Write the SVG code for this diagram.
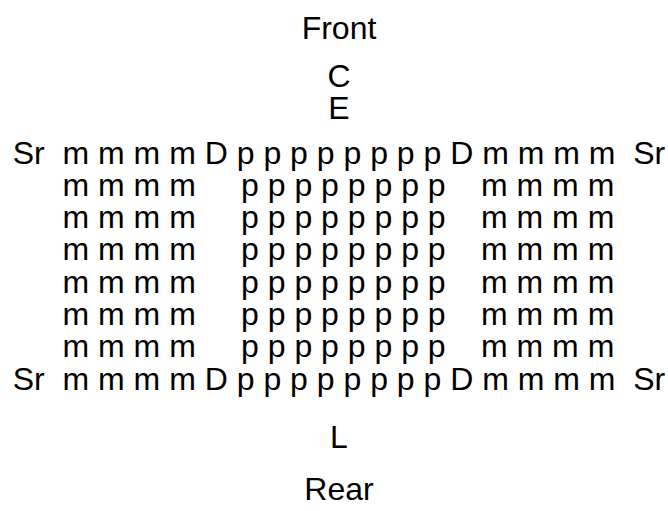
<svg xmlns="http://www.w3.org/2000/svg" width="668" height="511" viewBox="0 0 668 511">
<style>
text{font-family:"Liberation Sans",Arial,sans-serif;font-size:32px;fill:#000}
.c{text-anchor:middle}
</style>
<rect width="668" height="511" fill="#fff"/>
<g id="labels">
<text class="c" x="339" y="38.5">Front</text>
<text class="c" x="339" y="86.5">C</text>
<text class="c" x="339" y="118.5">E</text>
<text class="c" x="339" y="447.5">L</text>
<text class="c" x="339" y="499.5">Rear</text>
</g>
<g id="row1"><text class="c" x="339" y="163.5" xml:space="preserve">Sr  m m m m D p p p p p p p p D m m m m  Sr</text></g>
<g id="rows">
<text x="62.5" y="195.8">m m m m</text><text x="241" y="195.8">p p p p p p p p</text><text x="481" y="195.8">m m m m</text>
<text x="62.5" y="228.1">m m m m</text><text x="241" y="228.1">p p p p p p p p</text><text x="481" y="228.1">m m m m</text>
<text x="62.5" y="260.4">m m m m</text><text x="241" y="260.4">p p p p p p p p</text><text x="481" y="260.4">m m m m</text>
<text x="62.5" y="292.7">m m m m</text><text x="241" y="292.7">p p p p p p p p</text><text x="481" y="292.7">m m m m</text>
<text x="62.5" y="325">m m m m</text><text x="241" y="325">p p p p p p p p</text><text x="481" y="325">m m m m</text>
<text x="62.5" y="357.3">m m m m</text><text x="241" y="357.3">p p p p p p p p</text><text x="481" y="357.3">m m m m</text>
</g>
<g id="row8"><text class="c" x="339" y="389.6" xml:space="preserve">Sr  m m m m D p p p p p p p p D m m m m  Sr</text></g>
</svg>
